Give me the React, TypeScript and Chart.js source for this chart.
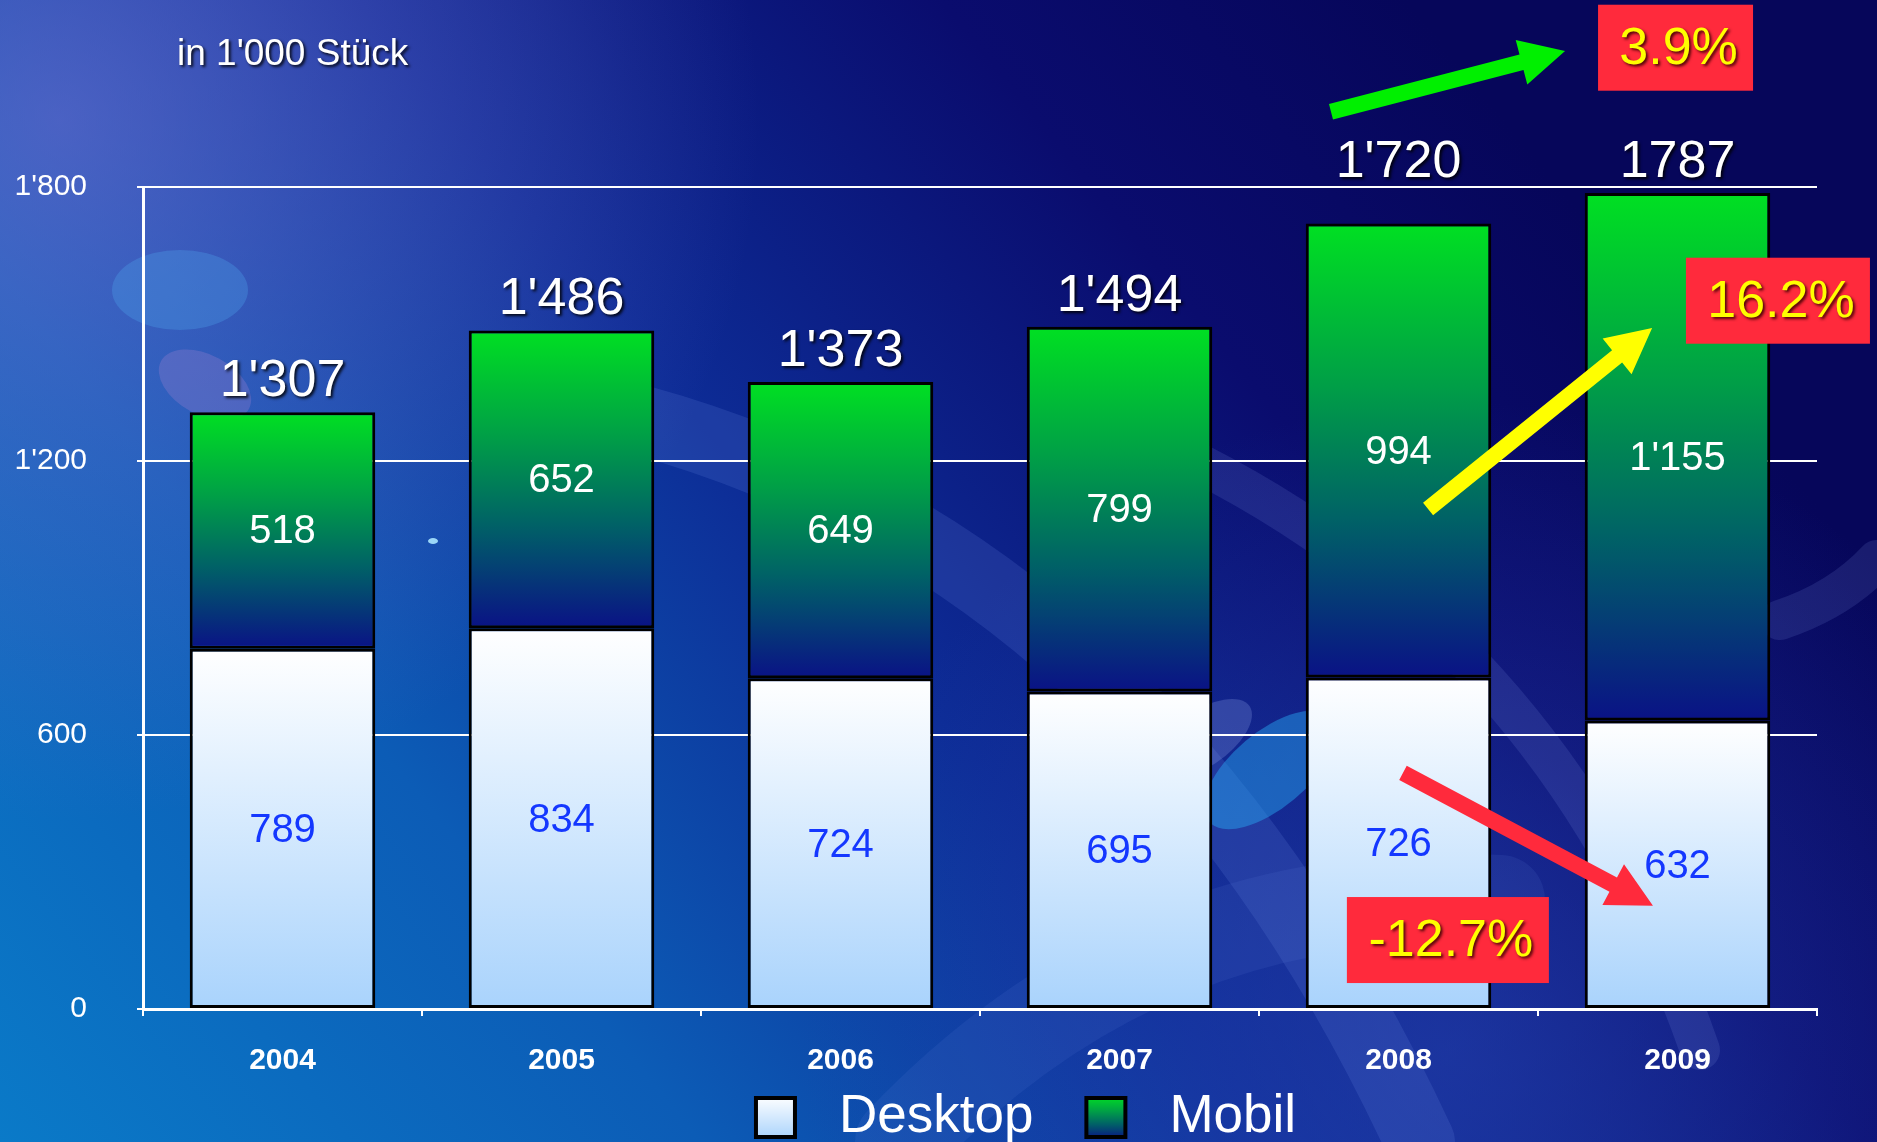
import React, { useEffect, useRef } from "react";
import { Chart, registerables } from "chart.js";

Chart.register(...registerables);

const years = ["2004", "2005", "2006", "2007", "2008", "2009"];
const desktop = [789, 834, 724, 695, 726, 632];
const mobil = [518, 652, 649, 799, 994, 1155];
const totals = [1307, 1486, 1373, 1494, 1720, 1787];
const totalLabelText = ["1'307", "1'486", "1'373", "1'494", "1'720", "1787"];
const totalLabelAnchor = [1307, 1486, 1373, 1494, 1787, 1787];
const yTicks = [0, 600, 1200, 1800];
const subtitle = "in 1'000 Stück";
const seriesNames = ["Desktop", "Mobil"];

// annotation anchors: [category index (fractional), value]
const percentLabels = ["3.9%", "16.2%", "-12.7%"];
const percentAnchors = [
  [4.993, 2105],
  [5.36, 1551],
  [4.177, 151],
];
const percentBoxW = [155, 184, 202];
const arrowTails = [
  [3.758, 1965],
  [4.106, 1095],
  [4.016, 517],
];
const arrowTips = [
  [4.597, 2098],
  [4.909, 1491],
  [4.912, 226],
];
const arrowColors = ["#00f000", "#ffff00", "#ff2a3c"];

const FONT = "'Liberation Sans', Arial, Helvetica, sans-serif";

function fmt(n: number): string {
  if (n >= 1000) {
    const r = n % 1000;
    return Math.floor(n / 1000) + "'" + String(r).padStart(3, "0");
  }
  return String(n);
}

function desktopGrad(ctx: CanvasRenderingContext2D, top: number, bottom: number) {
  const g = ctx.createLinearGradient(0, top, 0, bottom);
  g.addColorStop(0, "#ffffff");
  g.addColorStop(1, "#a9d3fc");
  return g;
}
function mobilGrad(ctx: CanvasRenderingContext2D, top: number, bottom: number) {
  const g = ctx.createLinearGradient(0, top, 0, bottom);
  g.addColorStop(0, "#00e022");
  g.addColorStop(0.35, "#00a046");
  g.addColorStop(0.65, "#006266");
  g.addColorStop(1, "#0a1286");
  return g;
}

function drawArrow(
  ctx: CanvasRenderingContext2D,
  x0: number, y0: number, x1: number, y1: number,
  color: string, shaft: number, headLen: number, headW: number
) {
  const ang = Math.atan2(y1 - y0, x1 - x0);
  const len = Math.hypot(x1 - x0, y1 - y0);
  ctx.save();
  ctx.translate(x0, y0);
  ctx.rotate(ang);
  ctx.fillStyle = color;
  ctx.beginPath();
  ctx.moveTo(0, -shaft / 2);
  ctx.lineTo(len - headLen, -shaft / 2);
  ctx.lineTo(len - headLen, -headW / 2);
  ctx.lineTo(len, 0);
  ctx.lineTo(len - headLen, headW / 2);
  ctx.lineTo(len - headLen, shaft / 2);
  ctx.lineTo(0, shaft / 2);
  ctx.closePath();
  ctx.fill();
  ctx.restore();
}

const backgroundPlugin = {
  id: "bgPlugin",
  beforeDraw(chart: any) {
    const { ctx, width: W, height: H } = chart;
    ctx.save();
    const g = ctx.createLinearGradient(0, H, W * 0.75, 0);
    g.addColorStop(0, "#0a7ac8");
    g.addColorStop(0.3, "#0c5cb6");
    g.addColorStop(0.55, "#0d2c96");
    g.addColorStop(0.8, "#0a0c6e");
    g.addColorStop(1, "#06065a");
    ctx.fillStyle = g;
    ctx.fillRect(0, 0, W, H);

    const r1 = ctx.createRadialGradient(60, 120, 0, 60, 120, 700);
    r1.addColorStop(0, "rgba(125,115,215,0.55)");
    r1.addColorStop(1, "rgba(125,115,215,0)");
    ctx.fillStyle = r1;
    ctx.fillRect(0, 0, W, H);

    const r2 = ctx.createRadialGradient(1450, 1050, 0, 1450, 1050, 650);
    r2.addColorStop(0, "rgba(40,70,180,0.55)");
    r2.addColorStop(1, "rgba(40,70,180,0)");
    ctx.fillStyle = r2;
    ctx.fillRect(0, 0, W, H);

    // swirl bands
    ctx.lineCap = "round";
    ctx.strokeStyle = "rgba(120,150,235,0.16)";
    ctx.lineWidth = 70;
    ctx.beginPath();
    ctx.moveTo(640, 420);
    ctx.quadraticCurveTo(1150, 560, 1420, 1142);
    ctx.stroke();
    ctx.lineWidth = 40;
    ctx.strokeStyle = "rgba(140,160,240,0.14)";
    ctx.beginPath();
    ctx.moveTo(1150, 440);
    ctx.quadraticCurveTo(1550, 620, 1700, 1050);
    ctx.stroke();
    ctx.beginPath();
    ctx.moveTo(1780, 620);
    ctx.quadraticCurveTo(1840, 600, 1877, 560);
    ctx.stroke();
    ctx.lineWidth = 90;
    ctx.strokeStyle = "rgba(100,130,220,0.12)";
    ctx.beginPath();
    ctx.moveTo(900, 1142);
    ctx.quadraticCurveTo(1150, 880, 1500, 900);
    ctx.stroke();

    const blob = (x: number, y: number, rx: number, ry: number, rot: number, c: string) => {
      ctx.fillStyle = c;
      ctx.beginPath();
      ctx.ellipse(x, y, rx, ry, rot, 0, Math.PI * 2);
      ctx.fill();
    };
    blob(180, 290, 68, 40, 0, "rgba(80,170,240,0.3)");
    blob(205, 385, 50, 30, 0.5, "rgba(160,130,210,0.3)");
    blob(1270, 770, 80, 38, -0.7, "rgba(40,170,245,0.45)");
    blob(1200, 740, 60, 28, -0.6, "rgba(150,170,240,0.25)");
    blob(433, 541, 5, 3, 0, "rgba(170,230,255,0.9)");
    ctx.restore();
  },
};

const overlayPlugin = {
  id: "overlayPlugin",
  afterDatasetsDraw(chart: any) {
    const { ctx, scales, chartArea } = chart;
    const xs = scales.x;
    const ys = scales.y;
    const px = (idx: number) => xs.getPixelForValue(0) + idx * (xs.getPixelForValue(1) - xs.getPixelForValue(0));
    ctx.save();
    ctx.textAlign = "center";
    ctx.textBaseline = "middle";

    // segment labels
    ctx.font = `40px ${FONT}`;
    for (let i = 0; i < years.length; i++) {
      const x = xs.getPixelForValue(i);
      ctx.fillStyle = "#1437ff";
      ctx.fillText(String(desktop[i]), x, ys.getPixelForValue(desktop[i] / 2) + 2);
      ctx.fillStyle = "#ffffff";
      ctx.fillText(fmt(mobil[i]), x, ys.getPixelForValue(desktop[i] + mobil[i] / 2) + 2);
    }

    // totals
    ctx.shadowColor = "rgba(0,0,0,0.85)";
    ctx.shadowOffsetX = 2;
    ctx.shadowOffsetY = 2;
    ctx.shadowBlur = 3;
    ctx.font = `52px ${FONT}`;
    ctx.textBaseline = "alphabetic";
    ctx.fillStyle = "#ffffff";
    for (let i = 0; i < years.length; i++) {
      const x = xs.getPixelForValue(i);
      ctx.fillText(totalLabelText[i], x, ys.getPixelForValue(totalLabelAnchor[i]) - 16);
    }

    // subtitle
    ctx.font = `37px ${FONT}`;
    ctx.textAlign = "left";
    ctx.fillText(subtitle, 177, 65);

    ctx.shadowColor = "transparent";
    // arrows
    for (let k = 0; k < arrowTails.length; k++) {
      drawArrow(
        ctx,
        px(arrowTails[k][0]), ys.getPixelForValue(arrowTails[k][1]),
        px(arrowTips[k][0]), ys.getPixelForValue(arrowTips[k][1]),
        arrowColors[k], 16, 45, 46
      );
    }

    // percent boxes
    for (let k = 0; k < percentLabels.length; k++) {
      const cx = px(percentAnchors[k][0]);
      const cy = ys.getPixelForValue(percentAnchors[k][1]);
      const w = percentBoxW[k];
      const h = 86;
      ctx.shadowColor = "transparent";
      ctx.fillStyle = "#ff2a3c";
      ctx.fillRect(cx - w / 2, cy - h / 2, w, h);
      ctx.shadowColor = "rgba(60,0,0,0.9)";
      ctx.shadowOffsetX = 2;
      ctx.shadowOffsetY = 2;
      ctx.shadowBlur = 3;
      ctx.fillStyle = "#ffff00";
      ctx.font = `52px ${FONT}`;
      ctx.textAlign = "center";
      ctx.textBaseline = "middle";
      ctx.fillText(percentLabels[k], cx + 3, cy + 2);
    }
    ctx.shadowColor = "transparent";

    // legend
    ctx.font = `53px ${FONT}`;
    ctx.textAlign = "left";
    ctx.textBaseline = "alphabetic";
    const box = 43;
    const gapBoxText = 42;
    const gapItems = 51;
    const w0 = ctx.measureText(seriesNames[0]).width;
    const w1 = ctx.measureText(seriesNames[1]).width;
    const total = box + gapBoxText + w0 + gapItems + box + gapBoxText + w1;
    const center = (chartArea.left + chartArea.right) / 2 + 45;
    let lx = center - total / 2;
    const by = 1096;
    const items = [
      { name: seriesNames[0], w: w0, grad: desktopGrad(ctx, by, by + box) },
      { name: seriesNames[1], w: w1, grad: mobilGrad(ctx, by, by + box) },
    ];
    for (const it of items) {
      ctx.fillStyle = "#000";
      ctx.fillRect(lx, by, box, box);
      ctx.fillStyle = it.grad;
      ctx.fillRect(lx + 4, by + 4, box - 8, box - 8);
      lx += box + gapBoxText;
      ctx.fillStyle = "#ffffff";
      ctx.fillText(it.name, lx, 1132);
      lx += it.w + gapItems;
    }
    ctx.restore();
  },
};

export default function App() {
  const ref = useRef<HTMLCanvasElement | null>(null);
  useEffect(() => {
    document.body.style.margin = "0";
    document.body.style.background = "#0a2a90";
    const canvas = ref.current;
    if (!canvas) return;
    const chart = new Chart(canvas, {
      type: "bar",
      data: {
        labels: years,
        datasets: [
          {
            label: seriesNames[0],
            data: desktop,
            stack: "s",
            backgroundColor: (c: any) => {
              const ch = c.chart;
              if (!ch.chartArea || c.type !== "data") return "#ffffff";
              const ys = ch.scales.y;
              return desktopGrad(ch.ctx, ys.getPixelForValue(desktop[c.dataIndex]), ys.getPixelForValue(0));
            },
            borderColor: "#000000",
            borderWidth: 3,
            borderSkipped: false,
          },
          {
            label: seriesNames[1],
            data: mobil,
            stack: "s",
            backgroundColor: (c: any) => {
              const ch = c.chart;
              if (!ch.chartArea || c.type !== "data") return "#00a046";
              const ys = ch.scales.y;
              return mobilGrad(ch.ctx, ys.getPixelForValue(totals[c.dataIndex]), ys.getPixelForValue(desktop[c.dataIndex]));
            },
            borderColor: "#000000",
            borderWidth: 3,
            borderSkipped: false,
          },
        ],
      },
      options: {
        responsive: false,
        animation: false,
        barPercentage: 0.665,
        categoryPercentage: 1.0,
        layout: { padding: { top: 187, right: 60, left: 0, bottom: 0 } },
        plugins: {
          legend: { display: false },
          tooltip: { enabled: false },
          title: { display: false },
        },
        scales: {
          x: {
            stacked: true,
            afterFit: (s: any) => {
              s.height = 133;
            },
            grid: {
              offset: true,
              drawOnChartArea: false,
              drawTicks: true,
              tickLength: 7,
              color: "#ffffff",
              lineWidth: 2,
            },
            border: { color: "#ffffff", width: 3 },
            ticks: {
              color: "#ffffff",
              font: { family: FONT, size: 30, weight: "bold" },
              padding: 27,
            },
          },
          y: {
            stacked: true,
            min: 0,
            max: 1800,
            afterFit: (s: any) => {
              s.width = 143;
            },
            afterBuildTicks: (s: any) => {
              s.ticks = yTicks.map((v) => ({ value: v }));
            },
            grid: {
              color: "#ffffff",
              lineWidth: 2,
              tickLength: 6,
            },
            border: { color: "#ffffff", width: 3 },
            ticks: {
              color: "#ffffff",
              font: { family: FONT, size: 30 },
              padding: 50,
              callback: (v: any) => fmt(Number(v)),
            },
          },
        },
      },
      plugins: [backgroundPlugin, overlayPlugin],
    });
    return () => chart.destroy();
  }, []);
  return <canvas ref={ref} width={1877} height={1142} style={{ display: "block" }} />;
}
